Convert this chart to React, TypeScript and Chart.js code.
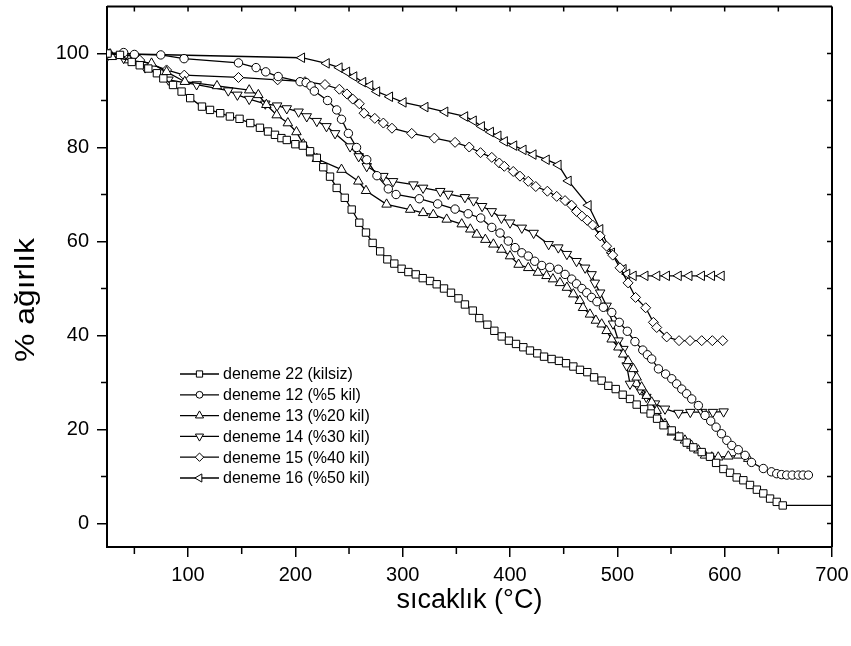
import { useEffect, useRef } from 'react';
import { Chart, registerables } from 'chart.js';
import { drawPoint } from 'chart.js/helpers';

Chart.register(...registerables);

// [temperature °C, weight %]
const d22: [number, number][] = [
  [25, 100], [36.6, 99.7], [47.5, 98.2], [55, 97.5], [63, 96.8], [71, 95.8], [77, 94.7], [86, 93.3], [94, 91.9],
  [102, 90.5], [113, 88.7], [120.5, 88], [130, 87.3], [139, 86.6], [148, 86.1], [158, 85.2], [167, 84.2],
  [174.5, 83.4], [181, 82.7], [187, 82], [192, 81.6], [200, 80.7], [207, 80.4], [213.7, 79.2], [220, 77.8],
  [226, 75.8], [232.3, 73.8], [238.5, 71.4], [246, 69.3], [252.5, 66.8], [259.6, 64], [265.8, 61.9], [272, 59.7],
  [279, 57.9], [285.7, 56.2], [292.2, 55.3], [299, 54.2], [305.3, 53.5], [312.2, 53], [318.7, 52.2], [325.5, 51.6],
  [331.7, 50.9], [338.5, 50], [345, 49.1], [352, 47.9], [358, 46.6], [365.3, 45.3], [371.4, 43.7], [378.9, 42.3],
  [385.4, 41], [392.3, 39.8], [399, 38.9], [405.6, 38.2], [412.4, 37.5], [418.6, 36.8], [425.4, 36.2], [431.7, 35.5],
  [438.8, 35], [445.6, 34.6], [452.2, 34.1], [459, 33.4], [465.2, 32.7], [472, 32.2], [478.3, 31.1], [485.4, 30.4],
  [491.6, 29.3], [498.5, 28.6], [505, 27.4], [511.8, 26.5], [518, 25.3], [525, 24.3], [531, 23.4], [537, 22.3],
  [543, 20.9], [550.7, 19.8], [557.7, 18.5], [564.6, 17.2], [570.8, 16.2], [578.6, 15.2], [586.3, 14.2], [592, 12.9],
  [598.8, 11.6], [605, 10.8], [611.2, 9.8], [617.4, 9.2], [623.6, 8.2], [630, 7.2], [636, 6.4], [642.3, 5.3],
  [648.5, 4.6], [654.1, 3.84], [700, 3.84],
];

const d12: [number, number][] = [
  [25, 100], [40, 100.2], [50, 99.8], [74.6, 99.7], [96.3, 98.9], [147, 98], [163.4, 97], [172.4, 96.1], [184, 95.1],
  [204.4, 94], [210, 93.8], [214.6, 93.1], [217.7, 92], [230, 90], [238.5, 88], [243, 86], [249.4, 83], [257, 80],
  [266.5, 77.4], [276, 74], [286.6, 71.2], [293.8, 70], [315.5, 69.1], [332.6, 68], [348.8, 66.9], [361, 65.9],
  [372.7, 65], [383, 63], [390.7, 61.8], [398.4, 60.1], [404.7, 58.7], [411, 57.6], [417, 56.9], [423, 55.8],
  [429.6, 54.9], [437, 54.5], [445, 54.1], [451.3, 53], [457.5, 52], [462, 51], [467, 50], [471.5, 49.1], [476, 48.1],
  [481, 47.2], [487, 46], [494.8, 44.9], [501.8, 42.8], [509.3, 40.9], [516.4, 38.7], [523.7, 36.9], [528, 35.9],
  [532, 35], [538.3, 32.9], [545, 31.8], [550.7, 30.8], [555.3, 29.7], [560, 28.6], [564.6, 27.6], [569.3, 26.5],
  [575.5, 25.1], [581.7, 23], [587, 21.8], [592, 20.5], [597, 19.1], [602, 17.7], [606.6, 16.6], [612.7, 15.7],
  [619, 14.5], [625, 13], [636, 11.7], [643.6, 11], [648.5, 10.6], [653, 10.4], [657.8, 10.3], [663, 10.3],
  [668.6, 10.3], [673, 10.3], [678, 10.3],
];

const d13: [number, number][] = [
  [25, 99.3], [29, 99.3], [45, 98.6], [66, 97.9], [80, 96.1], [97, 94], [127, 93.1], [157, 92.2], [165.5, 91.2],
  [173, 89.1], [182.6, 86.9], [193, 85.2], [201, 83.3], [207.4, 80.7], [214.6, 78.8], [220, 77.6], [243, 75.3],
  [258.7, 72.8], [265.8, 70.8], [285, 67.9], [307, 66.8], [319, 66.1], [328.5, 65.7], [341, 64.7], [355, 63.7],
  [363, 62.6], [369, 61.5], [377, 60.4], [384.5, 59.4], [392, 58.3], [400, 56.9], [408, 55.1], [417, 54.4],
  [426, 53.4], [434, 52.7], [440, 52], [446.6, 51.2], [453, 50.2], [459, 48.8], [465, 47.4], [468, 45.9],
  [474.5, 44.5], [480, 43.2], [485.4, 42.4], [490, 41], [494.7, 39.2], [501, 37.5], [505.5, 36], [510, 34.6],
  [515, 32.9], [518, 31.1], [522.6, 29], [527.3, 27.2], [532, 25.8], [536.6, 24], [544.4, 21.2], [550.7, 19.4],
  [556.8, 18.4], [563, 17.7], [569, 16.6], [575.5, 15.6], [581.7, 14.5], [588, 14.1], [594, 14.1], [603.4, 14.3],
  [612.7, 14.5], [622, 13.8],
];

const d14: [number, number][] = [
  [25, 99.5], [40, 99], [60, 97], [81.7, 94.4], [108, 93.4], [137.5, 92.1], [146, 91.2], [157, 90.3], [172, 89.3],
  [183, 88.9], [192, 88.3], [203, 87.6], [210.6, 86.6], [220, 85.6], [229, 84.5], [237, 83], [251, 80.2],
  [259, 78.1], [266.5, 76], [282, 73.9], [291, 72.8], [310, 72.1], [319, 71.4], [335, 70.7], [342.5, 70.1],
  [358, 69.4], [366, 68.7], [374, 67.5], [383, 66.4], [392, 65], [400, 64], [411, 62.9], [422, 61.8], [436, 59.4],
  [445, 58.7], [453, 57.3], [462, 55.8], [470, 54.4], [476, 53], [479, 51.2], [484, 49.1], [490, 46.3],
  [496, 42.5], [501, 38.9], [505.6, 37.1], [508.7, 33.6], [511.8, 29.7], [521, 28.5], [527, 26.9], [535, 25.5],
  [544.4, 24.4], [557, 23.5], [568, 23.7], [579, 23.7], [589, 23.7], [599, 23.8],
];

const d15: [number, number][] = [
  [25, 100], [40, 99.6], [55, 98.6], [80, 96.5], [96.5, 95.4], [147, 94.9], [183.5, 94.4], [209, 94],
  [227.6, 93.4], [241, 92.4], [248, 91.4], [253.5, 90.3], [259.6, 89.3], [264, 87.3], [274, 86.2], [282, 85.2],
  [290, 84.1], [308.4, 83], [329.5, 82], [348.8, 81.1], [362, 80.1], [372.5, 78.9], [383, 77.9], [390, 76.7],
  [394.7, 76], [403, 74.9], [409.3, 73.9], [417, 72.8], [424, 71.7], [434.8, 70.7], [443.5, 69.6], [451.3, 68.7],
  [457.5, 67.7], [462, 66.4], [467, 65.4], [472, 64.5], [477, 63.5], [484, 61.2], [490, 59], [495.7, 57.1],
  [502.5, 54.4], [510, 51.2], [517, 48.1], [526.4, 45.9], [533.6, 42.8], [536.7, 41.7], [546, 39.7],
  [557.5, 38.9], [567.7, 38.9], [578.6, 38.9], [588.5, 38.9], [598.2, 38.9],
];

const d16: [number, number][] = [
  [25, 100], [206, 99.1], [229, 97.9], [241, 97], [248, 96.1], [254.7, 95.1], [263, 93.9], [269.6, 93.2],
  [276, 91.9], [288, 90.8], [300.6, 89.6], [321, 88.6], [339.5, 87.6], [358, 86.6], [366, 85.7], [373.6, 84.5],
  [382, 83.3], [389, 82.5], [395, 81.3], [403.7, 80.4], [412.4, 79.5], [421.7, 78.5], [434, 77.4], [445, 76.3],
  [454.4, 72.9], [473, 67.7], [483.9, 62.6], [494.8, 57.6], [505.6, 54.1], [509, 53.1], [515, 52.7], [526, 52.7],
  [537, 52.7], [546, 52.7], [557, 52.7], [567, 52.7], [578.6, 52.7], [588, 52.7], [597, 52.7],
];

const seriesLabels = [
  'deneme 22 (kilsiz)',
  'deneme 12 (%5 kil)',
  'deneme 13 (%20 kil)',
  'deneme 14 (%30 kil)',
  'deneme 15 (%40 kil)',
  'deneme 16 (%50 kil)',
];

const xMajor = [100, 200, 300, 400, 500, 600, 700];
const xMinor = [50, 150, 250, 350, 450, 550, 650];
const yMajor = [0, 20, 40, 60, 80, 100];
const yMinor = [10, 30, 50, 70, 90];

const xTitle = 'sıcaklık (°C)';
const yTitle = '% ağırlık';

const FONT = '"Liberation Sans", Arial, sans-serif';

const markers = [
  { style: 'rect', rotation: 0, radius: 5.2 },
  { style: 'circle', rotation: 0, radius: 4.2 },
  { style: 'triangle', rotation: 0, radius: 5.5 },
  { style: 'triangle', rotation: 180, radius: 5.5 },
  { style: 'rectRot', rotation: 0, radius: 5 },
  { style: 'triangle', rotation: 270, radius: 5.5 },
];

export default function App() {
  const ref = useRef<HTMLCanvasElement | null>(null);

  useEffect(() => {
    if (!ref.current) return;
    const all = [d22, d12, d13, d14, d15, d16];

    const frame = {
      id: 'frame',
      afterDraw(chart: any) {
        const { ctx, chartArea: a, scales } = chart;
        const xs = scales.x;
        const ys = scales.y;
        ctx.save();
        ctx.strokeStyle = '#000';
        ctx.lineWidth = 2;
        ctx.beginPath();
        ctx.moveTo(a.left, a.top);
        ctx.lineTo(a.right, a.top);
        ctx.moveTo(a.right, a.top);
        ctx.lineTo(a.right, a.bottom);
        ctx.stroke();
        ctx.lineWidth = 1.5;
        ctx.beginPath();
        for (const v of xMinor) {
          const px = xs.getPixelForValue(v);
          ctx.moveTo(px, a.bottom);
          ctx.lineTo(px, a.bottom + 7);
        }
        for (const v of [...xMinor, ...xMajor.slice(0, -1)]) {
          const px = xs.getPixelForValue(v);
          ctx.moveTo(px, a.top);
          ctx.lineTo(px, a.top + 5);
        }
        for (const v of yMinor) {
          const py = ys.getPixelForValue(v);
          ctx.moveTo(a.left, py);
          ctx.lineTo(a.left - 6, py);
        }
        for (const v of [...yMinor, ...yMajor]) {
          const py = ys.getPixelForValue(v);
          ctx.moveTo(a.right, py);
          ctx.lineTo(a.right - 5, py);
        }
        ctx.stroke();

        // y axis title
        ctx.fillStyle = '#000';
        ctx.font = `27px ${FONT}`;
        ctx.textAlign = 'center';
        ctx.textBaseline = 'middle';
        ctx.translate(27, 300);
        ctx.rotate(-Math.PI / 2);
        ctx.scale(1.18, 1);
        ctx.fillText(yTitle, 0, 0);
        ctx.restore();

        // legend
        ctx.save();
        ctx.font = `16px ${FONT}`;
        ctx.textBaseline = 'middle';
        ctx.textAlign = 'left';
        seriesLabels.forEach((lab, i) => {
          const y = 374 + i * 20.8;
          ctx.strokeStyle = '#000';
          ctx.lineWidth = 1.3;
          ctx.beginPath();
          ctx.moveTo(180, y);
          ctx.lineTo(219, y);
          ctx.stroke();
          ctx.fillStyle = '#fff';
          ctx.lineWidth = 1;
          drawPoint(ctx, { pointStyle: markers[i].style as any, rotation: markers[i].rotation, radius: markers[i].radius - 0.8, borderWidth: 1 }, 199.5, y);
          ctx.fillStyle = '#000';
          ctx.fillText(lab, 223, y + 1);
        });
        ctx.restore();
      },
    };

    const chart = new Chart(ref.current, {
      type: 'scatter',
      data: {
        datasets: all.map((d, i) => ({
          label: seriesLabels[i],
          data: d.map(([x, y]) => ({ x, y })),
          showLine: true,
          borderColor: '#000',
          borderWidth: 1.3,
          tension: 0,
          pointStyle: markers[i].style as any,
          pointRotation: markers[i].rotation,
          pointRadius: (c: any) => (i === 0 && c.dataIndex === d.length - 1 ? 0 : markers[i].radius),
          pointBackgroundColor: '#fff',
          pointBorderColor: '#000',
          pointBorderWidth: 1,
        })),
      },
      options: {
        animation: false,
        responsive: false,
        events: [],
        layout: { padding: { left: 0, right: 19, top: 4, bottom: 0 } },
        plugins: { legend: { display: false }, tooltip: { enabled: false } },
        scales: {
          x: {
            type: 'linear',
            min: 24.5,
            max: 700,
            afterBuildTicks: (s: any) => { s.ticks = xMajor.map((v) => ({ value: v })); },
            afterFit: (s: any) => { s.height = 99; s.paddingLeft = 0; s.paddingRight = 0; },
            ticks: { color: '#000', font: { family: FONT, size: 20 }, padding: 6, maxRotation: 0, autoSkip: false },
            grid: { drawOnChartArea: false, drawTicks: true, tickLength: 10, color: '#000', lineWidth: 1.5 },
            border: { display: true, color: '#000', width: 2 },
            title: { display: true, text: xTitle, color: '#000', font: { family: FONT, size: 27 }, padding: { top: 0, bottom: 29 } },
          },
          y: {
            type: 'linear',
            min: -5,
            max: 110,
            afterBuildTicks: (s: any) => { s.ticks = yMajor.map((v) => ({ value: v })); },
            afterFit: (s: any) => { s.width = 107; s.paddingTop = 0; s.paddingBottom = 0; },
            ticks: { color: '#000', font: { family: FONT, size: 20 }, padding: 8 },
            grid: { drawOnChartArea: false, drawTicks: true, tickLength: 10, color: '#000', lineWidth: 1.5 },
            border: { display: true, color: '#000', width: 2 },
          },
        },
      },
      plugins: [frame],
    });
    return () => chart.destroy();
  }, []);

  return (
    <div style={{ position: 'fixed', left: 0, top: 0, width: 851, height: 646, background: '#fff' }}>
      <canvas ref={ref} width={851} height={646} style={{ display: 'block' }} />
    </div>
  );
}
